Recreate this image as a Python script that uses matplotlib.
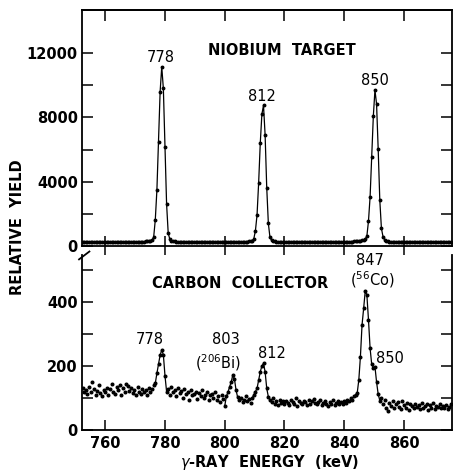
import numpy as np
import matplotlib
matplotlib.use("Agg")
import matplotlib.pyplot as plt

# ---------------- data ----------------
E0 = 752.5      # energy of first channel (keV)
DE = 0.54       # channel width (keV)

niobium_yield = [
    260, 250, 270, 255, 245, 265, 250, 260, 275, 255,
    250, 265, 245, 260, 255, 270, 250, 245, 260, 255,
    265, 250, 255, 270, 260, 245, 255, 265, 250, 260,
    255, 270, 260, 250, 265, 255, 270, 260, 275, 280,
    290, 300, 330, 390,
    550, 1620, 3480, 6490, 9600, 11150, 9800, 6180, 2610, 800, 420, 320,
    290, 280, 270, 265, 260, 255, 265, 250, 260, 255,
    250, 260, 245, 255, 265, 250, 255, 245, 260, 250,
    255, 245, 260, 250, 240, 255, 250, 245, 260, 250,
    255, 245, 250, 260, 265, 255, 250, 245, 255, 250,
    245, 255, 250, 260, 255, 265, 270, 280, 295,
    320, 450, 950, 1930, 3940, 6400, 8200, 8750, 6900, 3630, 1410, 540, 350,
    300, 280, 270, 260, 255, 250, 245, 255, 250, 245,
    255, 250, 245, 240, 250, 245, 255, 240, 250, 245,
    240, 250, 245, 255, 240, 245, 250, 240, 255, 245,
    250, 240, 245, 250, 255, 245, 240, 250, 245, 255,
    250, 245, 255, 250, 260, 255, 265, 260, 270, 275,
    280, 290, 300, 310, 330, 350, 380, 430,
    620, 1555, 3070, 5550, 8080, 9700, 8830, 6030, 2860, 1100, 580, 380,
    320, 290, 275, 265, 260, 250, 255, 245, 250, 240,
    245, 250, 240, 245, 235, 250, 240, 245, 235, 240,
    245, 235, 240, 250, 235, 240, 245, 230, 240, 235,
    240, 230, 245, 235, 240, 230, 235, 240, 230, 235, 240,
]

carbon_yield = [
    130, 118, 125, 112, 135, 120, 150, 128, 110, 122,
    140, 115, 105, 125, 118, 132, 110, 128, 145, 120,
    112, 135, 125, 140, 108, 130, 118, 145, 138, 122,
    130, 115, 125, 108, 135, 120, 112, 128, 118, 125,
    110, 132, 120, 128, 140,
    146, 177, 206, 234, 250, 235, 170, 120,
    128, 110, 135, 118, 125, 105, 130,
    115, 122, 100, 128, 112, 118, 95, 125, 108, 112,
    120, 98, 115, 105, 125, 100, 110, 118, 95, 108,
    112, 100, 120, 95, 105, 88, 110, 98,
    75, 105, 118, 135, 150, 172, 160, 125, 102, 95,
    100, 88, 95, 105, 92, 98, 85, 100, 110,
    120, 130, 156, 182, 200, 208, 182, 130, 104,
    95, 88, 100, 82, 92, 78, 95, 85, 90, 80,
    92, 85, 78, 95, 88, 82, 100, 75, 90, 85,
    80, 92, 88, 78, 95, 82, 90, 98, 85, 80,
    88, 95, 78, 85, 92, 80, 75, 88, 82, 95,
    78, 85, 90, 80, 88, 82, 92, 85, 95, 90,
    100, 95, 105, 110, 115,
    156, 229, 328, 380, 435, 422, 344, 255, 205, 195, 198, 150, 112, 92,
    100, 80, 95, 70, 58, 85, 75, 92, 68, 80,
    88, 72, 65, 90, 78, 70, 85, 62, 80, 75,
    68, 82, 72, 78, 65, 85, 70, 75, 80, 62,
    78, 70, 85, 65, 75, 72, 80, 68, 75, 70,
    78, 65, 72, 80,
]

# energy ranges of the fitted peak curves in the carbon-collector spectrum
carbon_fit_ranges = [(775.9, 781.2), (799.9, 805.0), (809.0, 815.4), (843.0, 852.6)]

niobium_labels = [("778", 778.7, 11750), ("812", 812.5, 9270), ("850", 850.3, 10320)]
carbon_labels = [("778", 775.0, 284), ("803", 800.5, 284), ("812", 815.8, 240),
                 ("847", 848.6, 530), ("850", 855.3, 224)]

x_ticks = [760, 780, 800, 820, 840, 860]
top_major = [0, 4000, 8000, 12000]
top_minor = [2000, 6000, 10000]
bot_major = [0, 200, 400]
bot_minor = [100, 300, 500]

# ---------------- figure ----------------
W, H = 454, 471
fig = plt.figure(figsize=(W / 100, H / 100), dpi=100)

L = 82 / W
R = 452 / W
ax1 = fig.add_axes([L, 1 - 246 / H, R - L, (246 - 10) / H])
ax2 = fig.add_axes([L, 1 - 430 / H, R - L, (430 - 255) / H])

XMIN, XMAX = 752.3, 876.0

e_nb = E0 + DE * np.arange(len(niobium_yield))
e_c = E0 + DE * np.arange(len(carbon_yield))
y_nb = np.array(niobium_yield, float)
y_c = np.array(carbon_yield, float)

lw_frame = 1.3
tickfont = dict(family="DejaVu Sans", weight="bold", size=10.5)

# --- top panel ---
ax1.plot(e_nb, y_nb, color="black", lw=0.9, marker="o", ms=1.8, mec="black", mfc="black")
ax1.set_xlim(XMIN, XMAX)
ax1.set_ylim(0, 14680)
ax1.set_yticks(top_major)
ax1.set_yticks(top_minor, minor=True)
ax1.set_yticklabels([str(v) for v in top_major], fontdict=tickfont)
ax1.set_xticks(x_ticks)
ax1.tick_params(axis="x", which="both", direction="inout", length=14, width=1.1,
                top=False, bottom=True, labelbottom=False)
ax1.tick_params(axis="y", which="both", direction="in", length=8, width=1.1,
                left=True, right=True, pad=3)
sec = ax1.secondary_xaxis("top")
sec.set_xticks(x_ticks)
sec.tick_params(direction="in", length=8, width=1.1, labeltop=False)
for s in ax1.spines.values():
    s.set_linewidth(lw_frame)
sec.spines["top"].set_linewidth(lw_frame)

ax1.text(819.2, 12190, "NIOBIUM  TARGET", ha="center", va="center",
         fontsize=10.5, fontweight="bold", family="DejaVu Sans")
for txt, x, y in niobium_labels:
    ax1.text(x, y, txt, ha="center", va="center", fontsize=10.5, family="DejaVu Sans")

# --- bottom panel ---
ax2.plot(e_c, y_c, linestyle="none", marker="o", ms=1.9, mec="black", mfc="black")
for lo, hi in carbon_fit_ranges:
    m = (e_c >= lo) & (e_c <= hi)
    ax2.plot(e_c[m], y_c[m], color="black", lw=0.9)
ax2.set_xlim(XMIN, XMAX)
ax2.set_ylim(0, 547)
ax2.set_yticks(bot_major)
ax2.set_yticks(bot_minor, minor=True)
ax2.set_yticklabels([str(v) for v in bot_major], fontdict=tickfont)
ax2.set_xticks(x_ticks)
ax2.set_xticklabels([str(v) for v in x_ticks], fontdict=tickfont)
ax2.tick_params(axis="x", which="both", direction="in", length=7, width=1.1,
                top=False, bottom=True, pad=4)
ax2.tick_params(axis="y", which="both", direction="in", length=8, width=1.1,
                left=True, right=True, pad=3)
ax2.spines["top"].set_visible(False)
for k in ("left", "right", "bottom"):
    ax2.spines[k].set_linewidth(lw_frame)
# axis-break mark
ax2.plot([-0.008, 0.02], [0.975, 1.02], transform=ax2.transAxes, color="black",
         lw=lw_frame, clip_on=False)

ax2.text(805.1, 458, "CARBON  COLLECTOR", ha="center", va="center",
         fontsize=10.5, fontweight="bold", family="DejaVu Sans")
for txt, x, y in carbon_labels:
    ax2.text(x, y, txt, ha="center", va="center", fontsize=10.5, family="DejaVu Sans")
ax2.text(797.8, 193, r"($^{206}$Bi)", ha="center", va="baseline", fontsize=10.5,
         family="DejaVu Sans")
ax2.text(849.3, 452, r"($^{56}$Co)", ha="center", va="baseline", fontsize=10.5,
         family="DejaVu Sans")

# --- axis titles ---
fig.text(18 / W, 1 - 227 / H, "RELATIVE  YIELD", rotation=90, ha="center", va="center",
         fontsize=10.5, fontweight="bold", family="DejaVu Sans")
fig.text(270 / W, 1 - 462 / H, r"$\gamma$-RAY  ENERGY  (keV)", ha="center", va="center",
         fontsize=10.5, fontweight="bold", family="DejaVu Sans")

fig.savefig("out.png", dpi=100)
